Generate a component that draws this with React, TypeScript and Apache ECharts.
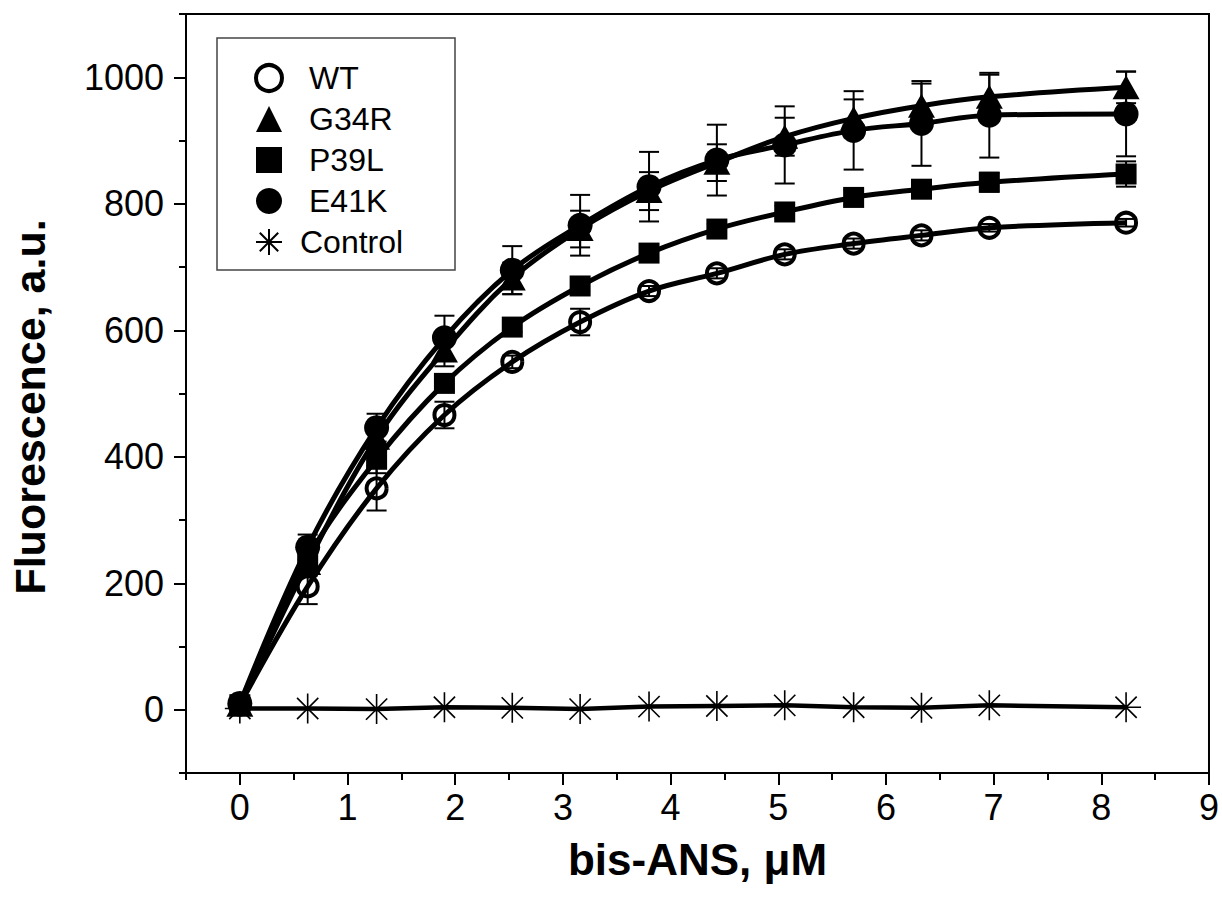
import React, { useEffect, useRef } from 'react';
import * as echarts from 'echarts';

const xValues = [0, 0.63, 1.27, 1.9, 2.53, 3.16, 3.8, 4.43, 5.06, 5.7, 6.33, 6.96, 8.23];
const wtValues = [8, 195, 350, 466, 550, 613, 662, 690, 720, 737, 750, 762, 770];
const wtErrors = [5, 28, 35, 21, 10, 21, 8, 8, 8, 8, 8, 6, 6];
const g34rValues = [8, 232, 430, 568, 682, 760, 820, 865, 906, 935, 955, 969, 984];
const g34rErrors = [5, 20, 22, 25, 25, 29, 30, 29, 30, 30, 35, 35, 25];
const p39lValues = [8, 240, 396, 516, 605, 670, 722, 760, 787, 810, 823, 834, 847];
const p39lErrors = [5, 15, 22, 12, 8, 8, 8, 8, 10, 12, 12, 15, 20];
const e41kValues = [10, 257, 446, 588, 695, 766, 827, 869, 893, 916, 927, 940, 942];
const e41kErrors = [5, 20, 22, 35, 38, 48, 55, 56, 61, 62, 67, 67, 67];
const controlValues = [2, 2, 1, 4, 3, 1, 5, 6, 7, 4, 3, 7, 4];

const xMajorTicks = [0, 1, 2, 3, 4, 5, 6, 7, 8, 9];
const xMinorTicks = [-0.5, 0.5, 1.5, 2.5, 3.5, 4.5, 5.5, 6.5, 7.5, 8.5];
const yMajorTicks = [0, 200, 400, 600, 800, 1000];
const yMinorTicks = [-100, 100, 300, 500, 700, 900, 1100];

const seriesNames = ['WT', 'G34R', 'P39L', 'E41K', 'Control'];
const xTitle = 'bis-ANS, μM';
const yTitle = 'Fluorescence, a.u.';

const asterisk = 'path://M12,0L12,24M0,12L24,12M3.5,3.5L20.5,20.5M20.5,3.5L3.5,20.5';
const FONT = 'Liberation Sans, Arial, sans-serif';

function pairs(vals: number[]) {
  return xValues.map((x, i) => [x, vals[i]]);
}
function triples(vals: number[], errs: number[]) {
  return xValues.map((x, i) => [x, vals[i], errs[i]]);
}

function errorRender(params: any, api: any) {
  const x = api.value(0);
  const y = api.value(1);
  const e = api.value(2);
  const top = api.coord([x, y + e]);
  const bot = api.coord([x, y - e]);
  const hw = 10;
  const style = { stroke: '#000', lineWidth: 2, fill: 'none' };
  return {
    type: 'group',
    children: [
      { type: 'line', shape: { x1: top[0], y1: top[1], x2: bot[0], y2: bot[1] }, style },
      { type: 'line', shape: { x1: top[0] - hw, y1: top[1], x2: top[0] + hw, y2: top[1] }, style },
      { type: 'line', shape: { x1: bot[0] - hw, y1: bot[1], x2: bot[0] + hw, y2: bot[1] }, style },
    ],
  };
}

function errSeries(vals: number[], errs: number[]) {
  return {
    type: 'custom',
    renderItem: errorRender,
    data: triples(vals, errs),
    encode: { x: 0, y: 1 },
    z: 1,
    silent: true,
  };
}

export default function App() {
  const ref = useRef<HTMLDivElement>(null);
  useEffect(() => {
    if (!ref.current) return;
    const chart = echarts.init(ref.current, null, { renderer: 'svg' });
    const axisLineStyle = { color: '#000', width: 2 };
    const lineBase = {
      type: 'line',
      smooth: 0.35,
      z: 3,
      lineStyle: { color: '#000', width: 5 },
    };
    const plain = (v: number) => String(v);
    chart.setOption({
      animation: false,
      backgroundColor: '#fff',
      grid: {
        left: 186,
        right: 10,
        top: 14,
        bottom: 143,
        show: true,
        borderColor: '#000',
        borderWidth: 2,
        backgroundColor: 'transparent',
      },
      legend: {
        orient: 'vertical',
        left: 249,
        top: 57,
        itemWidth: 26,
        itemHeight: 26,
        itemGap: 9,
        selectedMode: false,
        textStyle: { fontSize: 32, color: '#000', fontFamily: FONT, lineHeight: 24, padding: [0, 0, 0, 22] },
        data: [
          { name: 'WT', icon: 'circle', itemStyle: { color: '#fff', borderColor: '#000', borderWidth: 4 } },
          { name: 'G34R', icon: 'triangle' },
          { name: 'P39L', icon: 'rect' },
          { name: 'E41K', icon: 'circle' },
          { name: 'Control', icon: asterisk, textStyle: { padding: [0, 0, 0, 13] } },
        ],
      },
      graphic: [
        {
          type: 'rect',
          shape: { x: 217, y: 38, width: 238, height: 232 },
          style: { fill: 'none', stroke: '#444', lineWidth: 1.5 },
          z: 10,
        },
        {
          type: 'text',
          x: 30,
          y: 407,
          rotation: Math.PI / 2,
          style: {
            text: yTitle,
            font: 'bold 43px ' + FONT,
            fill: '#000',
            textAlign: 'center',
            textVerticalAlign: 'middle',
          },
          z: 10,
        },
      ],
      xAxis: [
        {
          type: 'value',
          min: -0.5,
          max: 9,
          position: 'bottom',
          name: xTitle,
          nameLocation: 'middle',
          nameGap: 64,
          nameTextStyle: { fontSize: 44, fontWeight: 'bold', color: '#000', fontFamily: FONT },
          axisLine: { show: true, onZero: false, lineStyle: axisLineStyle },
          axisTick: { show: true, length: 12, customValues: xMajorTicks, lineStyle: axisLineStyle },
          axisLabel: { customValues: xMajorTicks, formatter: plain, fontSize: 36, color: '#000', fontFamily: FONT, margin: 16 },
          splitLine: { show: false },
        },
        {
          type: 'value',
          min: -0.5,
          max: 9,
          position: 'bottom',
          gridIndex: 0,
          axisLine: { show: false, onZero: false },
          axisTick: { show: true, length: 7, customValues: xMinorTicks, lineStyle: axisLineStyle },
          axisLabel: { show: false },
          splitLine: { show: false },
        },
      ],
      yAxis: [
        {
          type: 'value',
          min: -100,
          max: 1100,
          position: 'left',
          axisLine: { show: true, onZero: false, lineStyle: axisLineStyle },
          axisTick: { show: true, length: 12, customValues: yMajorTicks, lineStyle: axisLineStyle },
          axisLabel: { customValues: yMajorTicks, formatter: plain, fontSize: 36, color: '#000', fontFamily: FONT, margin: 22 },
          splitLine: { show: false },
        },
        {
          type: 'value',
          min: -100,
          max: 1100,
          position: 'left',
          gridIndex: 0,
          axisLine: { show: false, onZero: false },
          axisTick: { show: true, length: 7, customValues: yMinorTicks, lineStyle: axisLineStyle },
          axisLabel: { show: false },
          splitLine: { show: false },
        },
      ],
      series: [
        errSeries(wtValues, wtErrors),
        errSeries(g34rValues, g34rErrors),
        errSeries(p39lValues, p39lErrors),
        errSeries(e41kValues, e41kErrors),
        {
          ...lineBase,
          name: seriesNames[0],
          data: pairs(wtValues),
          symbol: 'circle',
          symbolSize: 20,
          itemStyle: { color: 'rgba(255,255,255,0)', borderColor: '#000', borderWidth: 4 },
        },
        {
          ...lineBase,
          name: seriesNames[1],
          data: pairs(g34rValues),
          symbol: 'triangle',
          symbolSize: [27, 24],
          itemStyle: { color: '#000' },
        },
        {
          ...lineBase,
          name: seriesNames[2],
          data: pairs(p39lValues),
          symbol: 'rect',
          symbolSize: 21,
          itemStyle: { color: '#000' },
        },
        {
          ...lineBase,
          name: seriesNames[3],
          data: pairs(e41kValues),
          symbol: 'circle',
          symbolSize: 25,
          itemStyle: { color: '#000' },
        },
        {
          type: 'line',
          name: seriesNames[4],
          data: pairs(controlValues),
          symbol: asterisk,
          symbolSize: 30,
          z: 4,
          lineStyle: { color: '#000', width: 4.5 },
          itemStyle: { color: '#000', borderColor: '#000', borderWidth: 1.6 },
        },
      ],
    });
    return () => chart.dispose();
  }, []);
  return (
    <div
      ref={ref}
      style={{ position: 'absolute', left: 0, top: 0, width: 1222, height: 916, background: '#fff' }}
    />
  );
}
